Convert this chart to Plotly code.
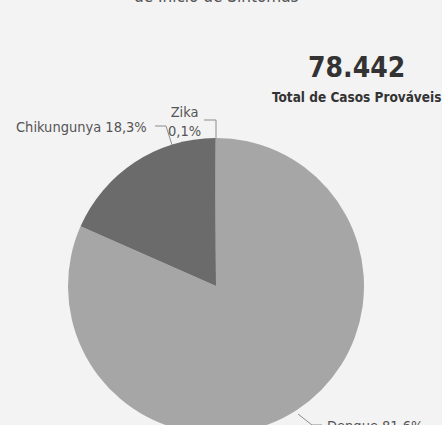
import plotly.graph_objects as go

categories = ["Dengue", "Chikungunya", "Zika"]
values = [64009, 14355, 78]
total_label = "Total de Casos Prováveis"
title_text = "de Início de Sintomas"

total = sum(values)
pcts = [v / total * 100 for v in values]

def fmt_pct(p):
    return f"{p:.1f}".replace(".", ",") + "%"

def fmt_int(n):
    return f"{n:,}".replace(",", ".")

W, H = 442, 445
BG = "#f3f3f3"
FONT = "DejaVu Sans Condensed"

fig = go.Figure(go.Pie(
    labels=categories,
    values=values,
    sort=False,
    direction="clockwise",
    rotation=0,
    marker=dict(colors=["#a6a6a6", "#6b6b6b", "#8a8a8a"], line=dict(width=0)),
    textinfo="none",
    hoverinfo="label+percent",
    showlegend=False,
    domain=dict(x=[68 / W, 364 / W], y=[1 - 434 / H, 1 - 138 / H]),
))

def px(x):
    return x / W

def py(y):
    return 1 - y / H

annots = []
# partial title at top (cut off)
annots.append(dict(text=title_text, x=px(216), y=py(-4), xref="paper", yref="paper",
                   xanchor="center", yanchor="middle", showarrow=False,
                   font=dict(family=FONT, size=17, color="#555555")))
# big total
annots.append(dict(text="<b>" + fmt_int(total) + "</b>", x=px(356), y=py(68), xref="paper", yref="paper",
                   xanchor="center", yanchor="middle", showarrow=False,
                   font=dict(family=FONT, size=28, color="#333333")))
annots.append(dict(text="<b>" + total_label + "</b>", x=px(356), y=py(97), xref="paper", yref="paper",
                   xanchor="center", yanchor="middle", showarrow=False,
                   font=dict(family=FONT, size=13.5, color="#333333")))
# slice labels
lab_font = dict(family=FONT, size=14.5, color="#555555")
annots.append(dict(text=f"{categories[1]} {fmt_pct(pcts[1])}", x=px(149), y=py(127), xref="paper", yref="paper",
                   xanchor="right", yanchor="middle", showarrow=False, font=lab_font))
annots.append(dict(text=f"{categories[2]}<br>{fmt_pct(pcts[2])}", x=px(184), y=py(122), xref="paper", yref="paper",
                   xanchor="center", yanchor="middle", showarrow=False, font=lab_font))
annots.append(dict(text=f"{categories[0]} {fmt_pct(pcts[0])}", x=px(325), y=py(426), xref="paper", yref="paper",
                   xanchor="left", yanchor="middle", showarrow=False, font=lab_font))

line = dict(color="#8c8c8c", width=1)
shapes = [
    dict(type="path", xref="paper", yref="paper",
         path=f"M {px(155)} {py(126)} L {px(166)} {py(126)} L {px(172)} {py(145)}", line=line),
    dict(type="path", xref="paper", yref="paper",
         path=f"M {px(204)} {py(120)} L {px(216)} {py(120)} L {px(216)} {py(138)}", line=line),
    dict(type="path", xref="paper", yref="paper",
         path=f"M {px(298)} {py(414)} L {px(312)} {py(425)} L {px(322)} {py(425)}", line=line),
]

fig.update_layout(
    width=W, height=H,
    margin=dict(l=0, r=0, t=0, b=0),
    paper_bgcolor=BG, plot_bgcolor=BG,
    separators=",.",
    annotations=annots,
    shapes=shapes,
    font=dict(family=FONT),
)

fig.write_html("out.html", config={"displayModeBar": False},
               post_script="document.body.style.margin='0';document.body.style.overflow='hidden';document.documentElement.style.overflow='hidden';document.body.style.background='#f3f3f3';")
